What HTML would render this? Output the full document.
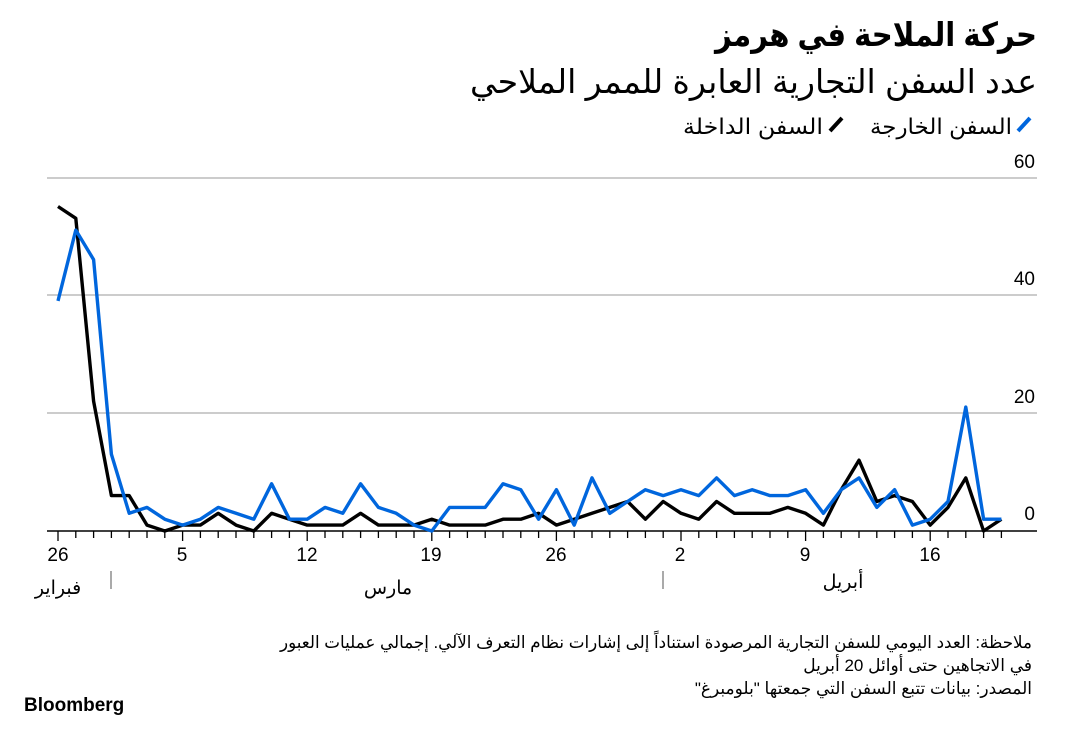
<!DOCTYPE html>
<html><head><meta charset="utf-8">
<style>
body{margin:0;width:1090px;height:735px;background:#fff;overflow:hidden;font-family:"Liberation Sans","DejaVu Sans",sans-serif;}
svg{position:absolute;left:0;top:0}
</style></head><body>
<svg id="s" width="1090" height="735" xmlns="http://www.w3.org/2000/svg">
<g font-family="'Liberation Sans','DejaVu Sans',sans-serif" direction="rtl">
<text x="1037" y="46" text-anchor="start" font-size="33" font-weight="bold" fill="#000" textLength="322" lengthAdjust="spacingAndGlyphs">حركة الملاحة في هرمز</text>
<text x="1037" y="93" text-anchor="start" font-size="33" fill="#000" textLength="567" lengthAdjust="spacingAndGlyphs">عدد السفن التجارية العابرة للممر الملاحي</text>
<text x="1012" y="134" text-anchor="start" font-size="22" fill="#000" textLength="142" lengthAdjust="spacingAndGlyphs">السفن الخارجة</text>
<text x="823" y="134" text-anchor="start" font-size="22" fill="#000" textLength="140" lengthAdjust="spacingAndGlyphs">السفن الداخلة</text>
</g>
<line x1="1018" y1="131" x2="1030" y2="118" stroke="#0066dd" stroke-width="4"/>
<line x1="830" y1="131" x2="842" y2="118" stroke="#000" stroke-width="4"/>
<g stroke="#bbb" stroke-width="1.5">
<line x1="47" y1="178" x2="1037" y2="178"/>
<line x1="47" y1="295" x2="1037" y2="295"/>
<line x1="47" y1="413" x2="1037" y2="413"/>
</g>
<g font-size="19" fill="#000" text-anchor="end">
<text x="1035" y="168">60</text>
<text x="1035" y="285">40</text>
<text x="1035" y="403">20</text>
<text x="1035" y="520">0</text>
</g>
<g id="ticks" stroke="#000" stroke-width="1.3"></g>
<line x1="47" y1="531" x2="1037" y2="531" stroke="#000" stroke-width="1.5"/>
<g font-size="19" fill="#000" text-anchor="middle">
<text x="58" y="561">26</text><text x="182" y="561">5</text><text x="307" y="561">12</text>
<text x="431" y="561">19</text><text x="556" y="561">26</text><text x="680" y="561">2</text>
<text x="805" y="561">9</text><text x="930" y="561">16</text>
</g>
<line x1="111" y1="571" x2="111" y2="589" stroke="#555" stroke-width="1"/>
<line x1="663" y1="571" x2="663" y2="589" stroke="#555" stroke-width="1"/>
<g font-size="19" fill="#000" text-anchor="middle" font-family="'Liberation Sans','DejaVu Sans',sans-serif">
<text x="58" y="594">فبراير</text><text x="388" y="594">مارس</text><text x="843" y="588">أبريل</text>
</g>
<polyline id="pb" fill="none" stroke="#000" stroke-width="3.4" stroke-linejoin="round"/>
<polyline id="pl" fill="none" stroke="#0066dd" stroke-width="3.4" stroke-linejoin="round"/>
<g font-size="17" fill="#000" direction="rtl" font-family="'Liberation Sans','DejaVu Sans',sans-serif">
<text x="1032" y="648" text-anchor="start" textLength="752" lengthAdjust="spacingAndGlyphs">ملاحظة: العدد اليومي للسفن التجارية المرصودة استناداً إلى إشارات نظام التعرف الآلي. إجمالي عمليات العبور</text>
<text x="1032" y="671" text-anchor="start">في الاتجاهين حتى أوائل 20 أبريل</text>
<text x="1032" y="694" text-anchor="start">المصدر: بيانات تتبع السفن التي جمعتها "بلومبرغ"</text>
</g>
<text x="24" y="711" font-size="19" font-weight="bold" fill="#000">Bloomberg</text>
</svg>
<script>
var b=[55,53,22,6,6,1,0,1,1,3,1,0,3,2,1,1,1,3,1,1,1,2,1,1,1,2,2,3,1,2,3,4,5,2,5,3,2,5,3,3,3,4,3,1,7,12,5,6,5,1,4,9,0,2];
var l=[39,51,46,13,3,4,2,1,2,4,3,2,8,2,2,4,3,8,4,3,1,0,4,4,4,8,7,2,7,1,9,3,5,7,6,7,6,9,6,7,6,6,7,3,7,9,4,7,1,2,5,21,2,2];
function pts(a){return a.map(function(v,i){return (58+17.8*i).toFixed(1)+","+(531-5.9*v).toFixed(1)}).join(" ")}
document.getElementById("pb").setAttribute("points",pts(b));
document.getElementById("pl").setAttribute("points",pts(l));
var t="";for(var i=0;i<54;i++){var x=(58+17.8*i).toFixed(1);var big=(i%7==0);t+='<line x1="'+x+'" y1="531" x2="'+x+'" y2="'+(big?541:538)+'"/>';}
document.getElementById("ticks").innerHTML=t;
</script>
</body></html>
